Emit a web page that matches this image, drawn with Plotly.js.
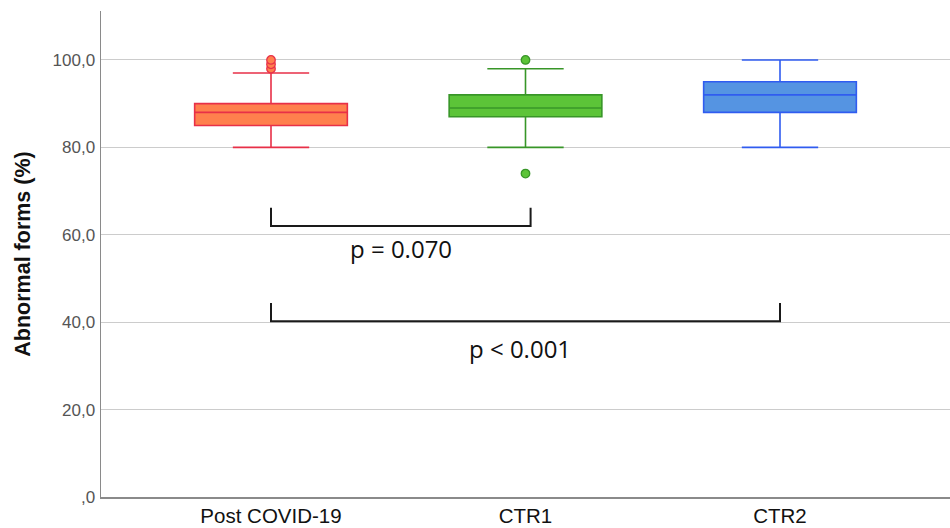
<!DOCTYPE html>
<html>
<head>
<meta charset="utf-8">
<script src="https://cdn.plot.ly/plotly-3.0.1.min.js"></script>
<style>html,body{margin:0;padding:0;background:#fff;}#chart{width:950px;height:528px;}</style>
</head>
<body>
<div id="chart"></div>
<script>
// ---- data ----
const groups = ['Post COVID-19', 'CTR1', 'CTR2'];
const q1 = [85, 87, 88];
const medians = [88, 89, 92];
const q3 = [90, 92, 95];
const lowerWhisker = [80, 80, 80];
const upperWhisker = [97, 98, 100];
const outlierGroups = ['Post COVID-19', 'Post COVID-19', 'Post COVID-19', 'CTR1', 'CTR1'];
const outlierValues = [98, 99, 100, 100, 74];
const yTickVals = [0, 20, 40, 60, 80, 100];
const yTickText = [',0', '20,0', '40,0', '60,0', '80,0', '100,0'];
// significance brackets: [start group index, end group index, base y, top y]
const bracketStart = [0, 0];
const bracketEnd = [1.02, 2];
const bracketBase = [62, 40.2];
const bracketTop = [66.2, 44.4];
const pLabels = ['p = 0.070', 'p < 0.001'];
const pLabelX = [0.51, 0.98];
const pLabelY = [56.9, 34.0];

// ---- styles ----
const fills = ['rgb(255,128,77)', 'rgb(92,196,56)', 'rgb(85,148,226)'];
const lines = ['rgb(232,48,72)', 'rgb(56,150,40)', 'rgb(48,92,240)'];

const traces = groups.map((g, i) => ({
  type: 'box',
  x: [g],
  q1: [q1[i]],
  median: [medians[i]],
  q3: [q3[i]],
  lowerfence: [lowerWhisker[i]],
  upperfence: [upperWhisker[i]],
  width: 0.6,
  whiskerwidth: 0.5,
  fillcolor: fills[i],
  line: {color: lines[i], width: 1.6},
  hoverinfo: 'skip',
  showlegend: false
}));

groups.forEach((g, i) => {
  const xs = [], ys = [];
  outlierGroups.forEach((og, k) => { if (og === g) { xs.push(og); ys.push(outlierValues[k]); } });
  if (xs.length) {
    traces.push({
      type: 'scatter', mode: 'markers', x: xs, y: ys,
      marker: {size: 8.5, color: fills[i], line: {color: lines[i], width: 1.3}},
      hoverinfo: 'skip', showlegend: false
    });
  }
});

const shapes = [];
bracketStart.forEach((s, i) => {
  shapes.push({
    type: 'path', xref: 'x', yref: 'y',
    path: `M ${s} ${bracketTop[i]} L ${s} ${bracketBase[i]} L ${bracketEnd[i]} ${bracketBase[i]} L ${bracketEnd[i]} ${bracketTop[i]}`,
    line: {color: '#1a1a1a', width: 2}
  });
});

const annotations = pLabels.map((t, i) => ({
  text: t, x: pLabelX[i], y: pLabelY[i], xref: 'x', yref: 'y',
  showarrow: false, font: {family: 'Open Sans, sans-serif', size: 24, color: '#111'}
}));

const layout = {
  width: 950, height: 528,
  margin: {l: 101, r: 0, t: 11, b: 31},
  paper_bgcolor: '#fff', plot_bgcolor: '#fff',
  showlegend: false,
  xaxis: {
    type: 'category', categoryorder: 'array', categoryarray: groups,
    range: [-0.668, 2.668],
    showgrid: false, zeroline: false,
    showline: true, linecolor: '#8a8a8a', linewidth: 1.5,
    ticks: '', ticklabelstandoff: 0,
    tickfont: {family: 'Liberation Sans, Arial, sans-serif', size: 20.5, color: '#111'}
  },
  yaxis: {
    range: [0, 111.2],
    tickvals: yTickVals, ticktext: yTickText,
    showgrid: true, gridcolor: '#cccccc', gridwidth: 1,
    zeroline: false,
    showline: true, linecolor: '#8a8a8a', linewidth: 1.5,
    ticks: '', ticklabelstandoff: 1,
    tickfont: {family: 'Liberation Sans, Arial, sans-serif', size: 17, color: '#555'},
    title: {text: 'Abnormal forms (%)', standoff: 16,
      font: {family: 'Liberation Sans, Arial, sans-serif', size: 21.5, color: '#111', weight: 'bold'}}
  },
  shapes: shapes,
  annotations: annotations
};

Plotly.newPlot('chart', traces, layout, {displayModeBar: false, staticPlot: true});
</script>
</body>
</html>
